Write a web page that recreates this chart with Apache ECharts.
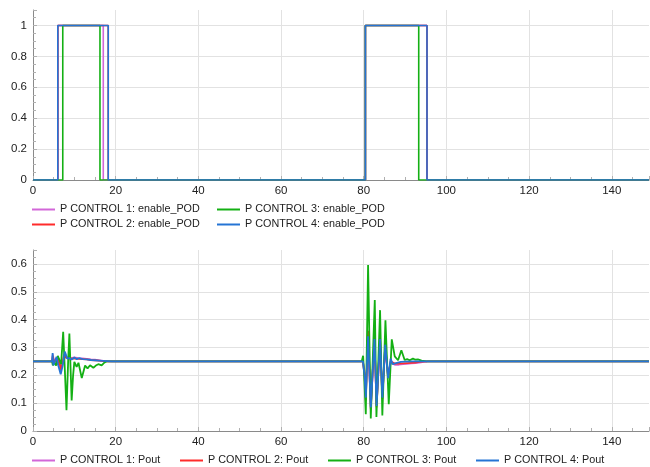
<!DOCTYPE html>
<html>
<head>
<meta charset="utf-8">
<title>P CONTROL enable_POD / Pout</title>
<script src="https://cdn.jsdelivr.net/npm/echarts@6/dist/echarts.min.js"></script>
<style>
  html, body { margin: 0; padding: 0; background: #ffffff; }
  #chart { width: 650px; height: 467px; }
</style>
</head>
<body>
<div id="chart"></div>
<script>
// Series names
const enableNames = ['P CONTROL 1: enable_POD', 'P CONTROL 2: enable_POD', 'P CONTROL 3: enable_POD', 'P CONTROL 4: enable_POD'];
const poutNames = ['P CONTROL 1: Pout', 'P CONTROL 2: Pout', 'P CONTROL 3: Pout', 'P CONTROL 4: Pout'];
const xTicks = [0, 20, 40, 60, 80, 100, 120, 140];

// enable_POD step signals (time, value)
const en1T = [0, 6.0, 6.0, 17.0, 17.0, 80.4, 80.4, 95.3, 95.3, 149];
const en1V = [0, 0, 1, 1, 0, 0, 1, 1, 0, 0];
const en2T = [0, 6.0, 6.0, 18.2, 18.2, 80.4, 80.4, 95.3, 95.3, 149];
const en2V = [0, 0, 1, 1, 0, 0, 1, 1, 0, 0];
const en3T = [0, 7.2, 7.2, 16.2, 16.2, 80.4, 80.4, 93.3, 93.3, 149];
const en3V = [0, 0, 1, 1, 0, 0, 1, 1, 0, 0];
const en4T = [0, 6.0, 6.0, 18.2, 18.2, 80.4, 80.4, 95.3, 95.3, 149];
const en4V = [0, 0, 1, 1, 0, 0, 1, 1, 0, 0];

// Pout responses (time, value)
const p1T = [0, 4.6, 4.8, 5.1, 5.5, 5.9, 6.3, 6.7, 7.1, 7.5, 8.0, 8.6, 9.2, 10, 11, 12, 13, 14, 15, 16, 17, 18,
  79.8, 80.2, 80.5, 81.05, 81.7, 82.6, 83.1, 83.95, 84.5, 85.2, 85.9, 86.5, 87.5, 88.5, 89.5, 90.5, 91.5, 92.5, 93.5, 94.5, 95.5, 96.5, 149];
const p1V = [0.25, 0.25, 0.275, 0.245, 0.26, 0.24, 0.25, 0.215, 0.245, 0.275, 0.262, 0.266, 0.262, 0.264, 0.262, 0.261, 0.259, 0.257, 0.256, 0.254, 0.252, 0.25,
  0.25, 0.21, 0.13, 0.345, 0.09, 0.325, 0.095, 0.325, 0.125, 0.3, 0.2, 0.245, 0.238, 0.238, 0.24, 0.241, 0.243, 0.244, 0.246, 0.248, 0.25, 0.25, 0.25];
const p2T = [0, 4.6, 4.8, 5.1, 5.5, 5.9, 6.3, 6.7, 7.1, 7.5, 8.0, 8.6, 9.2, 10, 11, 12, 13, 14, 15, 16, 17, 18,
  79.8, 80.2, 80.5, 81.05, 81.7, 82.6, 83.1, 83.95, 84.5, 85.2, 85.9, 86.5, 87.5, 88.5, 89.5, 90.5, 91.5, 92.5, 93.5, 94.5, 95.5, 149];
const p2V = [0.25, 0.25, 0.27, 0.245, 0.255, 0.24, 0.26, 0.22, 0.24, 0.27, 0.264, 0.262, 0.26, 0.261, 0.259, 0.258, 0.257, 0.255, 0.254, 0.253, 0.251, 0.25,
  0.25, 0.2, 0.11, 0.36, 0.08, 0.335, 0.085, 0.33, 0.115, 0.31, 0.19, 0.25, 0.242, 0.242, 0.243, 0.244, 0.245, 0.246, 0.248, 0.249, 0.25, 0.25];
const p3T = [0, 4.6, 4.8, 5.2, 5.6, 6.0, 6.4, 6.8, 7.3, 7.7, 8.1, 8.5, 8.8, 9.35, 9.7, 10.0, 10.55, 11.0, 11.8, 12.6, 13.2, 13.8, 14.6, 15.2, 15.8, 16.6, 17.2, 17.8, 18.5,
  79.5, 79.85, 80.1, 80.5, 81.05, 81.7, 82.67, 83.07, 83.95, 84.5, 85.25, 86.05, 86.78, 87.5, 87.9, 88.3, 89.1, 89.9, 90.5, 91.1, 91.9, 92.5, 93.1, 94.0, 95.2, 96.0, 149];
const p3V = [0.25, 0.25, 0.236, 0.245, 0.235, 0.27, 0.255, 0.24, 0.356, 0.22, 0.075, 0.25, 0.35, 0.11, 0.2, 0.248, 0.23, 0.245, 0.19, 0.235, 0.225, 0.236, 0.227, 0.235, 0.24, 0.236, 0.245, 0.25, 0.25,
  0.25, 0.27, 0.2, 0.06, 0.596, 0.045, 0.47, 0.05, 0.434, 0.056, 0.398, 0.096, 0.329, 0.268, 0.262, 0.254, 0.29, 0.255, 0.258, 0.254, 0.26, 0.256, 0.257, 0.253, 0.25, 0.25, 0.25];
const p4T = [0, 4.6, 4.75, 4.9, 5.3, 5.7, 6.1, 6.7, 7.2, 7.7, 8.3, 8.8, 9.35, 10, 10.6, 11.2, 12, 13, 14, 15, 16, 17, 18, 19,
  79.8, 80.2, 80.5, 81.05, 81.7, 82.6, 83.1, 83.95, 84.5, 85.2, 85.9, 86.5, 87, 88, 89, 90, 92, 149];
const p4V = [0.25, 0.25, 0.28, 0.236, 0.25, 0.266, 0.236, 0.204, 0.236, 0.285, 0.26, 0.262, 0.257, 0.264, 0.258, 0.262, 0.258, 0.257, 0.255, 0.254, 0.253, 0.252, 0.251, 0.25,
  0.25, 0.2, 0.12, 0.34, 0.085, 0.33, 0.09, 0.33, 0.12, 0.31, 0.19, 0.26, 0.24, 0.245, 0.248, 0.249, 0.25, 0.25];

const colors = ['#d267d8', '#ff2b2b', '#14b014', '#2574d4'];

function pairs(t, v) { return t.map((x, i) => [x, v[i]]); }

const enableData = [pairs(en1T, en1V), pairs(en2T, en2V), pairs(en3T, en3V), pairs(en4T, en4V)];
const poutData = [pairs(p1T, p1V), pairs(p2T, p2V), pairs(p3T, p3V), pairs(p4T, p4V)];

const FONT = 'Liberation Sans';
const labelFont = { fontFamily: FONT, fontSize: 11.5, color: '#222' };
const gridLine = { show: true, lineStyle: { color: '#e2e2e2', width: 1 } };

function xAxisFor(gridIndex) {
  return {
    type: 'value', gridIndex: gridIndex, min: 0, max: 149, interval: 20,
    axisLine: { show: true, onZero: false, lineStyle: { color: '#8a8a8a' } },
    axisTick: { show: true, inside: true, length: 4, lineStyle: { color: '#b0b0b0' } },
    minorTick: { show: true, splitNumber: 4, length: 3, lineStyle: { color: '#b0b0b0' } },
    axisLabel: Object.assign({ margin: 5, showMaxLabel: false,
      formatter: v => (xTicks.indexOf(v) >= 0 ? String(v) : '') }, labelFont),
    splitLine: Object.assign({ showMinLine: false, showMaxLine: false }, gridLine)
  };
}

function yAxisFor(gridIndex, max, interval) {
  return {
    type: 'value', gridIndex: gridIndex, min: 0, max: max, interval: interval,
    axisLine: { show: true, lineStyle: { color: '#8a8a8a' } },
    axisTick: { show: true, inside: true, length: 4, lineStyle: { color: '#b0b0b0' } },
    minorTick: { show: true, splitNumber: 4, length: 3, lineStyle: { color: '#b0b0b0' } },
    axisLabel: Object.assign({ margin: 6, showMaxLabel: false,
      formatter: v => String(Math.round(v * 100) / 100) }, labelFont),
    splitLine: Object.assign({ showMinLine: false, showMaxLine: false }, gridLine)
  };
}

const series = [];
enableNames.forEach((name, i) => {
  series.push({
    name: name, type: 'line', xAxisIndex: 0, yAxisIndex: 0,
    data: enableData[i], showSymbol: false, symbol: 'none', animation: false,
    lineStyle: { color: colors[i], width: 1.6 }, itemStyle: { color: colors[i] }
  });
});
poutNames.forEach((name, i) => {
  series.push({
    name: name, type: 'line', xAxisIndex: 1, yAxisIndex: 1,
    data: poutData[i], showSymbol: false, symbol: 'none', animation: false,
    lineStyle: { color: colors[i], width: 1.8 }, itemStyle: { color: colors[i] }
  });
});

const legendBase = {
  icon: 'rect', itemWidth: 23, itemHeight: 2,
  textStyle: { fontFamily: FONT, fontSize: 10.8, color: '#222' },
  itemGap: 4, selectedMode: false, padding: 0
};

// Two-column legend for the upper plot, one row of four for the lower plot
const legends = [
  Object.assign({}, legendBase, { orient: 'vertical', left: 32, top: 204, data: [enableNames[0], enableNames[1]] }),
  Object.assign({}, legendBase, { orient: 'vertical', left: 217, top: 204, data: [enableNames[2], enableNames[3]] })
];
const bottomLegendLeft = [32, 180, 328, 476];
poutNames.forEach((name, i) => {
  legends.push(Object.assign({}, legendBase, { orient: 'horizontal', left: bottomLegendLeft[i], top: 455, data: [name] }));
});

const chart = echarts.init(document.getElementById('chart'), null, { renderer: 'canvas' });
chart.setOption({
  backgroundColor: '#ffffff',
  animation: false,
  grid: [
    { left: 33, right: 1, top: 10, height: 170 },
    { left: 33, right: 1, top: 250, height: 181 }
  ],
  xAxis: [xAxisFor(0), xAxisFor(1)],
  yAxis: [yAxisFor(0, 1.1, 0.2), yAxisFor(1, 0.65, 0.1)],
  legend: legends,
  series: series
});
</script>
</body>
</html>
